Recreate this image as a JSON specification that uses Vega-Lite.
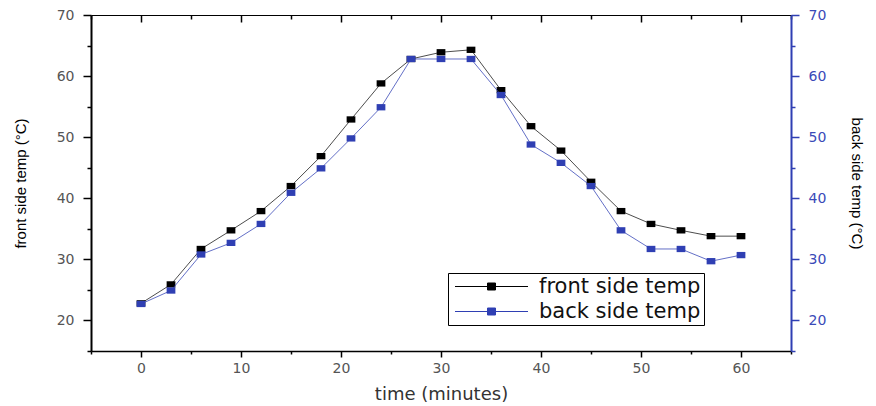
{
  "$schema": "https://vega.github.io/schema/vega-lite/v6.json",
  "width": 700,
  "height": 336,
  "autosize": "none",
  "padding": {"left": 91, "top": 15, "right": 85, "bottom": 55},
  "background": "white",
  "config": {
    "view": {"stroke": null},
    "axis": {"labelFlush": false, "labelOverlap": false, "grid": false}
  },
  "data": {
    "values": [
      {"t": 0, "series": "front side temp", "temp": 22.8},
      {"t": 3, "series": "front side temp", "temp": 25.9},
      {"t": 6, "series": "front side temp", "temp": 31.7},
      {"t": 9, "series": "front side temp", "temp": 34.75},
      {"t": 12, "series": "front side temp", "temp": 37.9},
      {"t": 15, "series": "front side temp", "temp": 42},
      {"t": 18, "series": "front side temp", "temp": 46.9},
      {"t": 21, "series": "front side temp", "temp": 52.9},
      {"t": 24, "series": "front side temp", "temp": 58.8},
      {"t": 27, "series": "front side temp", "temp": 62.8},
      {"t": 30, "series": "front side temp", "temp": 63.9},
      {"t": 33, "series": "front side temp", "temp": 64.3},
      {"t": 36, "series": "front side temp", "temp": 57.7},
      {"t": 39, "series": "front side temp", "temp": 51.8},
      {"t": 42, "series": "front side temp", "temp": 47.8},
      {"t": 45, "series": "front side temp", "temp": 42.7},
      {"t": 48, "series": "front side temp", "temp": 37.9},
      {"t": 51, "series": "front side temp", "temp": 35.8},
      {"t": 54, "series": "front side temp", "temp": 34.75},
      {"t": 57, "series": "front side temp", "temp": 33.8},
      {"t": 60, "series": "front side temp", "temp": 33.8},
      {"t": 0, "series": "back side temp", "temp": 22.7},
      {"t": 3, "series": "back side temp", "temp": 24.9},
      {"t": 6, "series": "back side temp", "temp": 30.8},
      {"t": 9, "series": "back side temp", "temp": 32.7},
      {"t": 12, "series": "back side temp", "temp": 35.8},
      {"t": 15, "series": "back side temp", "temp": 40.9},
      {"t": 18, "series": "back side temp", "temp": 44.9},
      {"t": 21, "series": "back side temp", "temp": 49.8},
      {"t": 24, "series": "back side temp", "temp": 54.9},
      {"t": 27, "series": "back side temp", "temp": 62.8},
      {"t": 30, "series": "back side temp", "temp": 62.8},
      {"t": 33, "series": "back side temp", "temp": 62.8},
      {"t": 36, "series": "back side temp", "temp": 56.9},
      {"t": 39, "series": "back side temp", "temp": 48.8},
      {"t": 42, "series": "back side temp", "temp": 45.8},
      {"t": 45, "series": "back side temp", "temp": 42},
      {"t": 48, "series": "back side temp", "temp": 34.75},
      {"t": 51, "series": "back side temp", "temp": 31.7},
      {"t": 54, "series": "back side temp", "temp": 31.7},
      {"t": 57, "series": "back side temp", "temp": 29.7},
      {"t": 60, "series": "back side temp", "temp": 30.7}
    ]
  },
  "layer": [
    {
      "transform": [{"filter": "datum.series === 'front side temp'"}],
      "encoding": {
        "x": {
          "field": "t", "type": "quantitative",
          "scale": {"domain": [-5, 65], "nice": false, "zero": false},
          "axis": {
            "orient": "bottom",
            "values": [-5, 0, 5, 10, 15, 20, 25, 30, 35, 40, 45, 50, 55, 60, 65],
            "labelExpr": "datum.value % 10 === 0 ? datum.label : ''",
            "tickSize": {"condition": {"test": "datum.value % 10 === 0", "value": 6}, "value": 3},
            "tickColor": "black", "tickWidth": 1.5,
            "domainColor": "black", "domainWidth": 1.5,
            "labelFont": "DejaVu Sans", "labelFontSize": 14, "labelColor": "#555",
            "labelPadding": 4,
            "title": "time (minutes)",
            "titleFont": "DejaVu Sans", "titleFontSize": 18, "titleFontWeight": "normal",
            "titleColor": "#333", "titlePadding": 10
          }
        },
        "y": {
          "field": "temp", "type": "quantitative",
          "scale": {"domain": [15, 70], "nice": false, "zero": false},
          "axis": {
            "orient": "left",
            "values": [15, 20, 25, 30, 35, 40, 45, 50, 55, 60, 65, 70],
            "labelExpr": "datum.value % 10 === 0 ? datum.label : ''",
            "tickSize": {"condition": {"test": "datum.value % 10 === 0", "value": 8}, "value": 4},
            "tickColor": "black", "tickWidth": 1.5,
            "domainColor": "black", "domainWidth": 2,
            "labelFont": "DejaVu Sans", "labelFontSize": 14, "labelColor": "#555",
            "labelPadding": 9,
            "title": "front side temp (°C)",
            "titleFont": "Liberation Sans",
            "titleFontSize": 15, "titleFontWeight": "normal", "titleColor": "black",
            "titlePadding": 28
          }
        },
        "color": {
          "field": "series", "type": "nominal",
          "scale": {"domain": ["front side temp", "back side temp"], "range": ["#000000", "#2f3fb3"]},
          "legend": {
            "orient": "none", "legendX": 357, "legendY": 258,
            "title": null,
            "strokeColor": "black", "fillColor": "white",
            "padding": 3,
            "symbolType": "M-3.65,0H3.65M-0.4,-0.35H0.4V0.35H-0.4Z",
            "symbolSize": 400,
            "symbolOffset": 30,
            "symbolStrokeWidth": 1,
            "labelFont": "DejaVu Sans", "labelFontSize": 21, "labelColor": "#111",
            "labelLimit": 400,
            "labelOffset": 37, "rowPadding": 3
          }
        }
      },
      "layer": [
        {"mark": {"type": "line", "strokeWidth": 1, "strokeOpacity": 0.7}},
        {"mark": {"type": "point", "filled": true, "opacity": 1, "shape": "M-1.25,-0.9H1.25V0.9H-1.25Z", "size": 49}}
      ]
    },
    {
      "transform": [{"filter": "datum.series === 'back side temp'"}],
      "encoding": {
        "x": {
          "field": "t", "type": "quantitative",
          "scale": {"domain": [-5, 65], "nice": false, "zero": false},
          "axis": {
            "orient": "top",
            "values": [-5, 0, 5, 10, 15, 20, 25, 30, 35, 40, 45, 50, 55, 60, 65],
            "labels": false,
            "tickSize": {"condition": {"test": "datum.value % 10 === 0", "value": -7}, "value": -4},
            "tickColor": "black", "tickWidth": 1.5,
            "domainColor": "black", "domainWidth": 1.2,
            "title": null
          }
        },
        "y": {
          "field": "temp", "type": "quantitative",
          "scale": {"domain": [15, 70], "nice": false, "zero": false},
          "axis": {
            "orient": "right",
            "values": [15, 20, 25, 30, 35, 40, 45, 50, 55, 60, 65, 70],
            "labelExpr": "datum.value % 10 === 0 ? datum.label : ''",
            "tickSize": {"condition": {"test": "datum.value % 10 === 0", "value": 8}, "value": 4},
            "tickColor": "#2f3fb3", "tickWidth": 1.5,
            "domainColor": "#2f3fb3", "domainWidth": 2,
            "labelFont": "DejaVu Sans", "labelFontSize": 14, "labelColor": "#3a4ab8",
            "labelPadding": 9,
            "title": "back side temp (°C)",
            "titleFont": "Liberation Sans",
            "titleFontSize": 15, "titleFontWeight": "normal", "titleColor": "black",
            "titlePadding": 23
          }
        },
        "color": {"field": "series", "type": "nominal"}
      },
      "layer": [
        {"mark": {"type": "line", "strokeWidth": 1, "strokeOpacity": 0.75}},
        {"mark": {"type": "point", "filled": true, "opacity": 1, "shape": "M-1.25,-0.9H1.25V0.9H-1.25Z", "size": 49}}
      ]
    }
  ],
  "resolve": {"scale": {"y": "independent"}, "axis": {"x": "independent"}}
}
